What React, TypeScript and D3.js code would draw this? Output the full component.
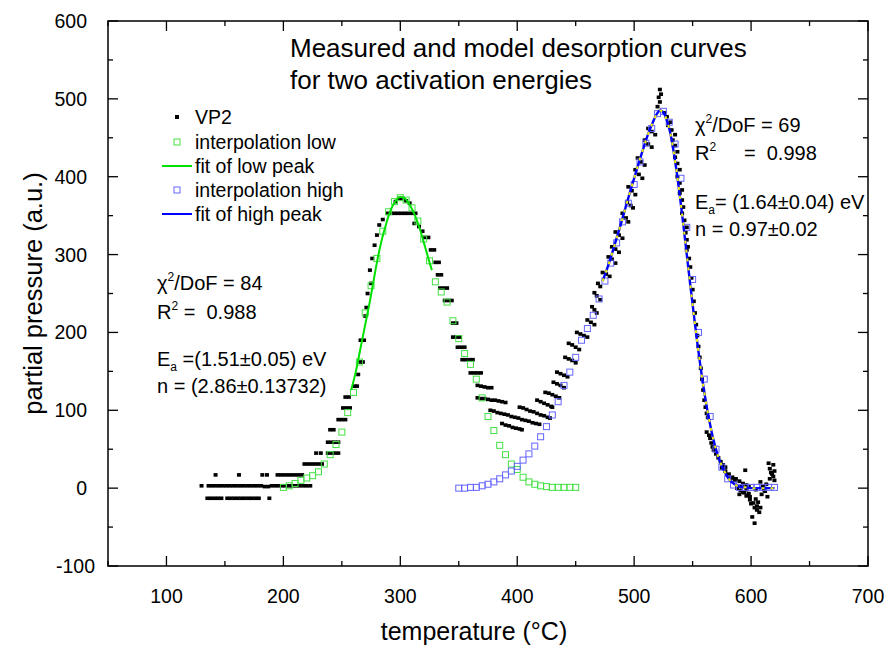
import React from "react";
import * as d3 from "d3";

// Measured desorption signal (temperature °C, partial pressure a.u.)
const vp2: [number, number][] = [
  [130, 3], [136, 3], [139, 3], [142, 3], [145, 3], [148, 3], [151, 3], [154, 3], [157, 3], [160, 3], [163, 3], [166, 3],
  [169, 3], [172, 3], [175, 3], [178, 3], [181, 3], [184, 2], [187, 2], [190, 3], [193, 3], [196, 3], [199, 3], [202, 3],
  [205, 3], [208, 3], [211, 3], [214, 3], [217, 3], [220, 3], [223, 3],
  [135, -13], [138, -13], [141, -13], [144, -13], [147, -13], [152, -13], [155, -13], [158, -13], [161, -13], [164, -13],
  [167, -13], [170, -13], [173, -13], [176, -13], [179, -13], [188, -13],
  [142, 17], [162, 17], [182, 17], [186, 17], [195, 17], [198, 17], [201, 17], [204, 17], [207, 17], [210, 17], [213, 17], [216, 17],
  [218, 31], [221, 31], [224, 31], [227, 31], [230, 31], [233, 31],
  [228, 45], [232, 45], [238, 45], [241, 45], [244, 45], [247, 45],
  [238, 59], [241, 59], [244, 59], [247, 59],
  [240, 75], [243, 75],
  [247, 88], [250, 88], [253, 88],
  [251, 103], [254, 103], [257, 103],
  [253, 117], [256, 117],
  [261, 131], [263, 131],
  [264, 146], [266, 162], [268, 162], [266, 190], [269, 190],
  [270, 221], [271, 232], [272, 250], [275, 263], [274, 280], [276, 295], [278, 312], [280, 325], [282, 338], [285, 345],
  [289, 353], [292, 353], [295, 353], [298, 353], [301, 353], [304, 353], [307, 353], [310, 353], [313, 353],
  [296, 368], [299, 372], [302, 372], [305, 369], [308, 366],
  [312, 340], [316, 336], [319, 330], [321, 322], [324, 322], [326, 306], [329, 306], [330, 290], [333, 290], [332, 274], [335, 274],
  [334, 257], [337, 257], [340, 257], [338, 241], [341, 241], [344, 241], [345, 212], [348, 212], [345, 194], [348, 194], [351, 194],
  [349, 181], [352, 181], [355, 181], [353, 165], [356, 165], [359, 165], [362, 165],
  [360, 148], [363, 148], [366, 148], [369, 148], [366, 132], [369, 131], [372, 130], [375, 129], [378, 129],
  [366, 116], [369, 115], [372, 115], [375, 114], [378, 113], [381, 113], [384, 112], [387, 111], [390, 110],
  [377, 100], [380, 99], [383, 97], [386, 96], [389, 95], [392, 94], [395, 92], [398, 91], [401, 90], [404, 88],
  [407, 87], [410, 86], [413, 84], [416, 83], [419, 82],
  [387, 83], [390, 81], [393, 80], [396, 78], [399, 77], [402, 76], [404, 75],
  [402, 104], [405, 103], [408, 101], [411, 99], [414, 98], [417, 96], [420, 94], [423, 93], [426, 91], [428, 90],
  [417, 113], [420, 111], [423, 109], [426, 107], [429, 105], [430, 104],
  [424, 123], [427, 122], [430, 120], [433, 118], [436, 116],
  [431, 136], [434, 134], [437, 132], [440, 129],
  [434, 149], [437, 147], [440, 145], [443, 143],
  [441, 168], [444, 166], [447, 164], [450, 161],
  [444, 186], [447, 184], [450, 181], [453, 178],
  [451, 200], [454, 198], [457, 196], [460, 194],
  [460, 216], [463, 213], [466, 210],
  [464, 233], [466, 229], [468, 225],
  [466, 251], [468, 247], [471, 242],
  [469, 263], [471, 259],
  [473, 277], [476, 275], [479, 272], [478, 297], [481, 294], [484, 289], [481, 310], [484, 307], [487, 303],
  [484, 329], [487, 325], [490, 321], [490, 353], [493, 347], [495, 342], [494, 367], [497, 363], [499, 360],
  [495, 387], [498, 382], [501, 377], [501, 409], [504, 403], [507, 398], [503, 424], [506, 419], [509, 415],
  [509, 447], [512, 442], [515, 438], [512, 462], [515, 458], [518, 454],
  [520, 490], [522, 496], [521, 502], [523, 506], [522, 512],
  [526, 482], [528, 477], [531, 470], [529, 466], [532, 460], [535, 454], [533, 447], [535, 440], [537, 432],
  [535, 425], [537, 417], [539, 409], [537, 400], [539, 392], [541, 383], [539, 379], [541, 370], [542, 361],
  [541, 353], [543, 344], [545, 335], [544, 328], [545, 319], [546, 310], [545, 306], [547, 295], [548, 284],
  [549, 270], [550, 255], [551, 240], [552, 225], [553, 210], [554, 196], [555, 182], [556, 168], [557, 154],
  [558, 140], [559, 126], [560, 113],
  [561, 104], [562, 96], [563, 91], [562, 72], [564, 68], [565, 64], [566, 58], [567, 53], [568, 49], [570, 44], [572, 39],
  [574, 34], [576, 30], [578, 27], [575, 26], [578, 22], [581, 18], [584, 14], [580, 17], [583, 13], [586, 10],
  [587, 12], [590, 9], [593, 6], [596, 4], [595, 23],
  [588, 0], [591, -3], [594, -6], [597, -9], [599, -11], [593, -5], [596, -10], [599, -15], [602, -19], [605, -23], [608, -25],
  [600, -20], [603, -25], [605, -28], [601, -37], [603, -45],
  [596, -2], [598, -7], [604, -14], [606, -18], [609, -8], [611, -2], [613, 5], [616, 12], [618, 18], [607, -31],
  [598, 2], [604, -2], [590, -8], [592, 2],
  [608, 8], [610, 2], [612, -4], [614, -11], [615, 32], [616, 25], [617, 20], [619, 15], [620, 10], [619, 30], [620, 22],
];

// Interpolated low-temperature peak
const interpLow: [number, number][] = [
  [200, 1], [205, 3], [210, 6], [215, 10], [220, 13], [225, 16], [230, 21], [235, 31], [240, 43], [245, 56],
  [250, 72], [255, 97], [260, 123], [265, 162], [270, 225], [275, 260], [280, 295], [285, 330], [290, 355], [295, 368],
  [300, 373], [305, 370], [310, 360], [315, 343], [320, 320], [325, 292], [330, 265], [335, 252], [340, 239], [345, 215],
  [350, 192], [355, 173], [360, 159], [365, 140], [370, 116], [375, 92], [380, 74], [385, 55], [390, 43], [395, 31],
  [400, 24], [405, 14], [410, 8], [415, 5], [420, 3], [425, 2], [430, 1], [435, 1], [440, 1], [445, 1], [450, 1],
];

// Interpolated high-temperature peak
const interpHigh: [number, number][] = [
  [350, 0], [355, 0], [360, 1], [365, 1], [370, 3], [375, 5], [380, 8], [385, 12], [390, 17], [395, 22],
  [400, 28], [405, 36], [410, 44], [415, 54], [420, 66], [425, 79], [430, 94], [435, 111], [440, 132], [445, 149],
  [450, 168], [455, 190], [460, 205], [465, 222], [470, 243], [475, 266], [480, 289], [485, 315], [490, 342], [495, 366],
  [500, 390], [505, 419], [510, 443], [515, 462], [520, 481], [525, 484], [530, 470], [535, 442], [540, 398], [545, 335],
  [550, 268], [555, 200], [560, 140], [565, 92], [570, 50], [575, 27], [580, 12], [585, 4], [590, 1], [595, 1],
  [600, 1], [605, 1], [610, 1], [615, 1], [620, 1],
];

// Model fit of the low peak
const fitLow: [number, number][] = [
  [258, 126], [262, 150], [266, 180], [270, 210], [274, 240], [277, 265], [280, 290], [284, 318], [288, 340],
  [292, 358], [296, 369], [300, 374], [304, 372], [308, 364], [312, 352], [316, 336], [320, 316], [324, 295], [327, 280],
];

// Model fit of the high peak
const fitHigh: [number, number][] = [
  [473, 266], [476, 278], [480, 296], [484, 316], [488, 336], [492, 357], [496, 378], [500, 398], [504, 418],
  [508, 437], [512, 455], [516, 470], [520, 482], [522, 485], [524, 484], [526, 480], [528, 472], [530, 462],
  [532, 448], [534, 430], [536, 410], [538, 388], [540, 364], [542, 339], [544, 313], [546, 287], [548, 261],
  [550, 236], [552, 211], [554, 187], [556, 164], [558, 143], [560, 123], [562, 105], [564, 89], [566, 74],
  [568, 61], [570, 50], [572, 40], [574, 32], [576, 25], [578, 19], [580, 14], [582, 10], [584, 7], [586, 5],
  [588, 3], [590, 2], [595, 1], [600, 0], [610, 0], [620, 0],
];

const tempTicks = [100, 200, 300, 400, 500, 600, 700];
const tempMinor = [50, 150, 250, 350, 450, 550, 650];
const pressureTicks = [-100, 0, 100, 200, 300, 400, 500, 600];
const pressureMinor = [-50, 50, 150, 250, 350, 450, 550];

const FONT = "'Liberation Sans', Arial, Helvetica, sans-serif";
const W = 888;
const H = 648;
const NB = "\u00A0";

export default function App() {
  const x = d3.scaleLinear().domain([50, 700]).range([108, 868]);
  const y = d3.scaleLinear().domain([-100, 600]).range([566, 21]);
  const [x0, x1] = x.range();
  const [y0, y1] = y.range();

  const line = d3
    .line<[number, number]>()
    .x((d) => x(d[0]))
    .y((d) => y(d[1]))
    .curve(d3.curveMonotoneX);

  const green = "#00e000";
  const greenSq = "#44e044";
  const blue = "#0000ff";
  const blueSq = "#6464ff";
  const yellow = "#f0f000";

  const majorLen = 10;
  const minorLen = 5;

  const legendX = 195;
  const legendRows = [
    { label: "VP2", y: 117, kind: "dot" },
    { label: "interpolation low", y: 142, kind: "sqLow" },
    { label: "fit of low peak", y: 166, kind: "lineLow" },
    { label: "interpolation high", y: 190, kind: "sqHigh" },
    { label: "fit of high peak", y: 214, kind: "lineHigh" },
  ];

  const sup = { fontSize: 12 };

  return (
    <div style={{ position: "absolute", left: 0, top: 0 }}>
      <svg width={W} height={H} viewBox={`0 0 ${W} ${H}`} style={{ display: "block", background: "#fff" }}>
        <rect width={W} height={H} fill="#fff" />

        {/* measured points */}
        <g>
          {vp2.map((d, i) => (
            <rect key={i} x={x(d[0]) - 2} y={y(d[1]) - 1.8} width={4} height={3.6} fill="#000" />
          ))}
        </g>

        {/* interpolation squares */}
        <g fill="none" stroke={greenSq} strokeWidth={1}>
          {interpLow.map((d, i) => (
            <rect key={i} x={x(d[0]) - 3} y={y(d[1]) - 3} width={6} height={6} />
          ))}
        </g>
        <g fill="none" stroke={blueSq} strokeWidth={1}>
          {interpHigh.map((d, i) => (
            <rect key={i} x={x(d[0]) - 3} y={y(d[1]) - 3} width={6} height={6} />
          ))}
        </g>

        {/* fits */}
        <path d={line(fitLow) || ""} fill="none" stroke={green} strokeWidth={2} />
        <path d={line(fitHigh) || ""} fill="none" stroke={blue} strokeWidth={2.4} />
        <path d={line(fitHigh) || ""} fill="none" stroke={yellow} strokeWidth={2} strokeDasharray="3 6" />

        {/* frame */}
        <rect x={x0} y={y1} width={x1 - x0} height={y0 - y1} fill="none" stroke="#000" strokeWidth={1.5} />

        {/* ticks */}
        <g stroke="#000" strokeWidth={1.3}>
          {tempTicks.map((t) => (
            <g key={"xt" + t}>
              <line x1={x(t)} x2={x(t)} y1={y0} y2={y0 - majorLen} />
              <line x1={x(t)} x2={x(t)} y1={y1} y2={y1 + majorLen} />
            </g>
          ))}
          {tempMinor.map((t) => (
            <g key={"xm" + t}>
              <line x1={x(t)} x2={x(t)} y1={y0} y2={y0 - minorLen} />
              <line x1={x(t)} x2={x(t)} y1={y1} y2={y1 + minorLen} />
            </g>
          ))}
          {pressureTicks.map((t) => (
            <g key={"yt" + t}>
              <line x1={x0} x2={x0 + majorLen} y1={y(t)} y2={y(t)} />
              <line x1={x1} x2={x1 - majorLen} y1={y(t)} y2={y(t)} />
            </g>
          ))}
          {pressureMinor.map((t) => (
            <g key={"ym" + t}>
              <line x1={x0} x2={x0 + minorLen} y1={y(t)} y2={y(t)} />
              <line x1={x1} x2={x1 - minorLen} y1={y(t)} y2={y(t)} />
            </g>
          ))}
        </g>

        {/* tick labels */}
        <g fontFamily={FONT} fontSize={19.5} fill="#000">
          {tempTicks.map((t) => (
            <text key={"xl" + t} x={x(t)} y={603} textAnchor="middle">
              {t}
            </text>
          ))}
          {pressureTicks.map((t) => (
            <text key={"yl" + t} x={t < 0 ? 95 : 87} y={y(t) + 7} textAnchor="end">
              {t}
            </text>
          ))}
        </g>

        {/* axis titles */}
        <text x={474} y={640} textAnchor="middle" fontFamily={FONT} fontSize={25}>
          temperature (°C)
        </text>
        <text
          transform={`translate(42, ${(y0 + y1) / 2}) rotate(-90)`}
          textAnchor="middle"
          fontFamily={FONT}
          fontSize={25.5}
        >
          partial pressure (a.u.)
        </text>

        {/* title */}
        <g fontFamily={FONT} fontSize={26} fill="#000">
          <text x={290} y={57}>Measured and model desorption curves</text>
          <text x={290} y={89}>for two activation energies</text>
        </g>

        {/* legend */}
        <g fontFamily={FONT} fontSize={19.5}>
          {legendRows.map((r) => (
            <g key={r.label}>
              {r.kind === "dot" && <rect x={175} y={r.y - 2} width={4} height={4} fill="#000" />}
              {r.kind === "sqLow" && (
                <rect x={174} y={r.y - 3} width={6} height={6} fill="none" stroke={greenSq} />
              )}
              {r.kind === "sqHigh" && (
                <rect x={174} y={r.y - 3} width={6} height={6} fill="none" stroke={blueSq} />
              )}
              {r.kind === "lineLow" && <line x1={162} x2={192} y1={r.y} y2={r.y} stroke={green} strokeWidth={2} />}
              {r.kind === "lineHigh" && <line x1={162} x2={192} y1={r.y} y2={r.y} stroke={blue} strokeWidth={2} />}
              <text x={legendX} y={r.y + 7}>
                {r.label}
              </text>
            </g>
          ))}
        </g>

        {/* fit statistics, high peak */}
        <g fontFamily={FONT} fontSize={20}>
          <text x={695} y={132}>
            χ<tspan {...sup} dy={-9}>2</tspan>
            <tspan dy={9}>/DoF = 69</tspan>
          </text>
          <text x={695} y={160}>
            R<tspan {...sup} dy={-9}>2</tspan>
            <tspan dy={9}>{`${NB}${NB}${NB}${NB}${NB}=${NB}${NB}0.998`}</tspan>
          </text>
          <text x={695} y={209}>
            E<tspan {...sup} dy={5}>a</tspan>
            <tspan dy={-5}>= (1.64±0.04) eV</tspan>
          </text>
          <text x={695} y={236}>n = 0.97±0.02</text>
        </g>

        {/* fit statistics, low peak */}
        <g fontFamily={FONT} fontSize={20}>
          <text x={157} y={290}>
            χ<tspan {...sup} dy={-9}>2</tspan>
            <tspan dy={9}>/DoF = 84</tspan>
          </text>
          <text x={157} y={319}>
            R<tspan {...sup} dy={-9}>2</tspan>
            <tspan dy={9}>{`${NB}=${NB}${NB}0.988`}</tspan>
          </text>
          <text x={157} y={366}>
            E<tspan {...sup} dy={5}>a</tspan>
            <tspan dy={-5}>{`${NB}=(1.51±0.05) eV`}</tspan>
          </text>
          <text x={157} y={393}>n = (2.86±0.13732)</text>
        </g>
      </svg>
    </div>
  );
}
